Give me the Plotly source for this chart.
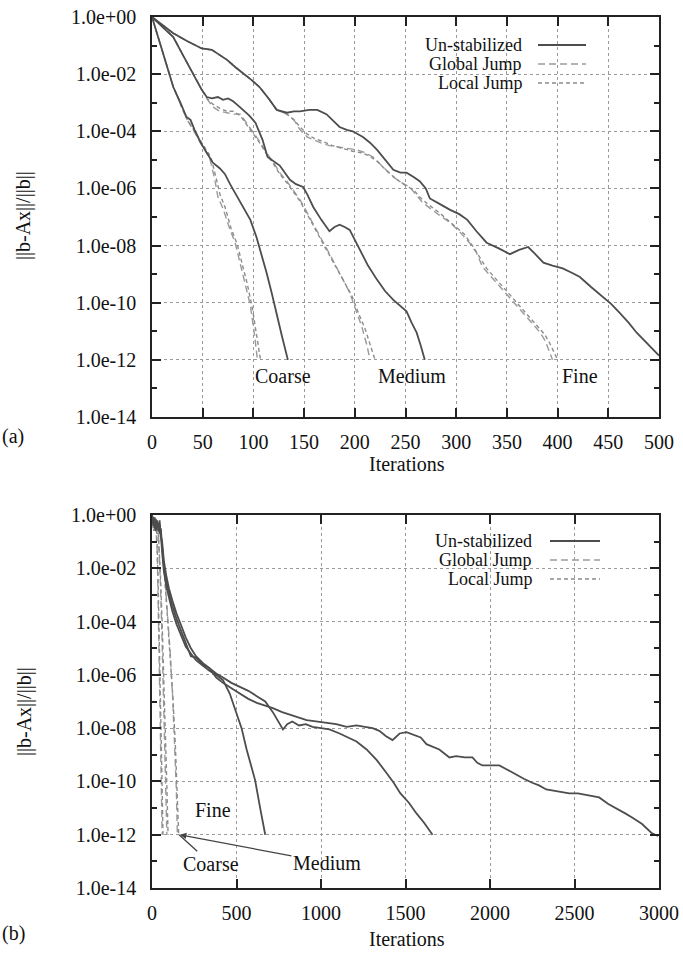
import plotly.graph_objects as go

W, H = 683, 954

# ---------------- Panel (a): iterations 0-500, values given as log10(||b-Ax||/||b||)
a_coarse_un_x = [0, 10, 21, 28, 34, 38, 42, 48, 54, 60, 67, 72, 77, 84, 90, 97, 103, 108, 113, 118, 123, 128, 134]
a_coarse_un_e = [0, -1.15, -2.45, -3.0, -3.5, -3.6, -3.95, -4.4, -4.75, -5.1, -5.3, -5.5, -5.85, -6.3, -6.65, -7.1, -7.7, -8.3, -8.95, -9.65, -10.35, -11.15, -12.0]
a_coarse_gj_x = [0, 10, 21, 34, 42, 50, 57, 62, 65, 70, 77, 82, 87, 92, 97, 101, 104]
a_coarse_gj_e = [0, -1.15, -2.45, -3.55, -4.05, -4.5, -4.95, -5.7, -6.3, -6.7, -7.45, -7.9, -8.6, -9.3, -10.1, -11.1, -12.0]
a_coarse_lj_x = [0, 10, 21, 34, 42, 50, 58, 63, 67, 72, 78, 84, 89, 94, 99, 103, 107]
a_coarse_lj_e = [0, -1.15, -2.45, -3.55, -4.0, -4.45, -4.9, -5.6, -6.2, -6.65, -7.4, -7.95, -8.65, -9.35, -10.2, -11.1, -12.0]

a_medium_un_x = [0, 10, 21, 30, 37, 44, 49, 54, 59, 65, 70, 75, 80, 85, 90, 96, 102, 109, 114, 120, 126, 131, 136, 142, 149, 153, 159, 167, 175, 180, 185, 190, 195, 200, 205, 213, 222, 230, 238, 245, 251, 256, 261, 265, 269]
a_medium_un_e = [0, -0.35, -0.7, -1.3, -1.75, -2.2, -2.55, -2.8, -2.85, -2.8, -2.9, -2.85, -2.95, -3.1, -3.25, -3.45, -3.7, -4.3, -4.9, -5.05, -5.2, -5.45, -5.7, -5.85, -5.95, -6.2, -6.65, -7.1, -7.5, -7.35, -7.27, -7.35, -7.45, -7.8, -8.15, -8.7, -9.2, -9.6, -9.9, -10.1, -10.3, -10.7, -11.05, -11.5, -12.0]
a_medium_gj_x = [0, 10, 21, 30, 37, 44, 49, 54, 60, 67, 74, 80, 87, 93, 100, 107, 113, 120, 126, 133, 139, 146, 153, 161, 169, 176, 182, 189, 195, 202, 207, 212, 215]
a_medium_gj_e = [0, -0.35, -0.7, -1.3, -1.75, -2.2, -2.55, -2.85, -3.15, -3.3, -3.35, -3.4, -3.4, -3.7, -4.05, -4.4, -4.75, -5.1, -5.45, -5.75, -6.05, -6.4, -6.85, -7.4, -7.9, -8.35, -8.75, -9.2, -9.65, -10.35, -10.85, -11.5, -12.0]
a_medium_lj_x = [0, 10, 21, 30, 37, 44, 49, 54, 60, 67, 74, 80, 87, 93, 100, 107, 113, 120, 126, 133, 139, 146, 153, 161, 169, 176, 183, 190, 197, 204, 210, 215, 220]
a_medium_lj_e = [0, -0.35, -0.7, -1.3, -1.75, -2.2, -2.55, -2.85, -3.05, -3.2, -3.3, -3.3, -3.45, -3.75, -4.1, -4.45, -4.8, -5.15, -5.5, -5.8, -6.1, -6.45, -6.9, -7.45, -7.95, -8.4, -8.85, -9.3, -9.75, -10.4, -10.9, -11.45, -12.0]

a_fine_un_x = [0, 10, 21, 35, 49, 59, 66, 74, 82, 90, 98, 106, 115, 123, 133, 140, 146, 155, 163, 172, 178, 185, 192, 198, 208, 215, 222, 230, 238, 245, 251, 258, 264, 270, 274, 284, 294, 303, 311, 320, 330, 342, 353, 362, 371, 378, 386, 395, 405, 414, 422, 433, 445, 453, 461, 470, 478, 488, 498, 500]
a_fine_un_e = [0, -0.28, -0.57, -0.85, -1.1, -1.15, -1.3, -1.5, -1.75, -1.97, -2.2, -2.45, -2.85, -3.25, -3.35, -3.3, -3.3, -3.25, -3.25, -3.4, -3.6, -3.85, -3.95, -4.0, -4.2, -4.4, -4.65, -5.0, -5.35, -5.45, -5.45, -5.6, -5.75, -6.0, -6.35, -6.55, -6.75, -6.9, -7.1, -7.5, -7.9, -8.1, -8.3, -8.15, -8.05, -8.3, -8.6, -8.7, -8.8, -8.95, -9.1, -9.45, -9.8, -10.05, -10.35, -10.7, -11.05, -11.4, -11.75, -11.85]
a_fine_gj_x = [0, 10, 21, 35, 49, 59, 66, 74, 82, 90, 98, 106, 115, 123, 133, 140, 146, 153, 160, 166, 175, 185, 195, 202, 210, 218, 228, 238, 246, 254, 260, 267, 280, 294, 303, 313, 320, 326, 336, 346, 356, 366, 375, 383, 388, 392, 395]
a_fine_gj_e = [0, -0.28, -0.57, -0.85, -1.1, -1.15, -1.3, -1.5, -1.75, -1.97, -2.2, -2.45, -2.85, -3.25, -3.4, -3.6, -3.95, -4.2, -4.3, -4.4, -4.5, -4.55, -4.6, -4.65, -4.75, -4.9, -5.25, -5.6, -5.8, -5.95, -6.2, -6.5, -6.85, -7.2, -7.5, -7.9, -8.25, -8.75, -9.15, -9.55, -9.95, -10.35, -10.7, -11.05, -11.35, -11.75, -12.0]
a_fine_lj_x = [0, 10, 21, 35, 49, 59, 66, 74, 82, 90, 98, 106, 115, 123, 133, 140, 146, 153, 160, 168, 178, 188, 198, 206, 214, 222, 232, 242, 250, 258, 264, 272, 285, 298, 308, 316, 323, 330, 340, 350, 360, 370, 379, 387, 392, 397, 400]
a_fine_lj_e = [0, -0.28, -0.57, -0.85, -1.1, -1.15, -1.3, -1.5, -1.75, -1.97, -2.2, -2.45, -2.85, -3.25, -3.4, -3.6, -3.85, -4.1, -4.25, -4.35, -4.5, -4.6, -4.7, -4.75, -4.85, -5.05, -5.4, -5.7, -5.9, -6.05, -6.3, -6.55, -6.9, -7.3, -7.6, -8.0, -8.4, -8.8, -9.2, -9.6, -10.0, -10.4, -10.75, -11.1, -11.4, -11.75, -12.0]

# ---------------- Panel (b): iterations 0-3000
b_coarse_un_x = [0, 8, 15, 22, 30, 38, 45, 52, 60, 70, 85, 100, 120, 145, 170, 200, 230, 260, 300, 340, 380, 420, 460, 500, 530, 560, 585, 610, 640, 670]
b_coarse_un_e = [0, -0.3, -0.1, -0.45, -0.2, -0.6, -0.35, -0.7, -1.4, -2.1, -2.7, -3.1, -3.6, -4.1, -4.5, -4.95, -5.2, -5.45, -5.65, -5.85, -6.0, -6.2, -6.7, -7.4, -8.0, -8.8, -9.4, -9.95, -11.0, -12.0]
b_medium_un_x = [0, 8, 15, 22, 30, 38, 45, 52, 60, 70, 85, 100, 120, 145, 170, 200, 230, 260, 300, 340, 380, 420, 470, 520, 570, 620, 670, 715, 745, 775, 800, 830, 870, 910, 950, 1000, 1050, 1110, 1160, 1210, 1270, 1330, 1390, 1430, 1470, 1520, 1565, 1610, 1660]
b_medium_un_e = [0, -0.2, -0.5, -0.15, -0.4, -0.3, -0.7, -0.5, -1.2, -1.9, -2.5, -2.9, -3.4, -3.9, -4.3, -4.8, -5.3, -5.35, -5.6, -5.75, -5.95, -6.1, -6.3, -6.45, -6.6, -6.8, -7.0, -7.4, -7.75, -8.05, -7.85, -7.75, -7.9, -7.85, -7.95, -8.0, -8.05, -8.2, -8.35, -8.5, -8.8, -9.2, -9.7, -10.05, -10.45, -10.8, -11.2, -11.55, -12.0]
b_fine_un_x = [0, 8, 15, 22, 30, 38, 45, 52, 60, 70, 85, 100, 120, 145, 170, 200, 230, 260, 300, 340,
               380, 420, 470, 520, 570, 620, 670, 715, 770, 815, 865, 915, 970, 1033, 1090, 1152, 1210, 1260, 1305, 1345,
               1385, 1423, 1465, 1506, 1553, 1590, 1624, 1660, 1700, 1730, 1760, 1800, 1850, 1896, 1925, 1955, 2000, 2055, 2100, 2155,
               2200, 2250, 2290, 2333, 2380, 2420, 2469, 2520, 2570, 2610, 2646, 2700, 2746, 2800, 2841, 2900, 2959, 2995]
b_fine_un_e = [0, -0.4, -0.1, -0.6, -0.3, -0.5, -0.2, -0.8, -1.0, -1.7, -2.3, -2.75, -3.2, -3.7, -4.1, -4.6, -5.0, -5.3, -5.55, -5.75,
               -6.1, -6.3, -6.5, -6.7, -6.9, -7.05, -7.15, -7.25, -7.4, -7.5, -7.6, -7.7, -7.75, -7.8, -7.85, -7.95, -7.9, -7.95, -8.0, -8.1,
               -8.3, -8.45, -8.2, -8.15, -8.25, -8.35, -8.6, -8.7, -8.8, -8.95, -9.1, -9.05, -9.1, -9.1, -9.3, -9.4, -9.4, -9.4, -9.55, -9.75,
               -9.9, -10.05, -10.15, -10.3, -10.35, -10.4, -10.45, -10.45, -10.5, -10.55, -10.6, -10.85, -11.0, -11.2, -11.35, -11.6, -11.95, -12.05]

b_coarse_gj_x = [0, 5, 10, 15, 20, 25, 30, 34, 38, 42, 46, 50, 55, 60]
b_coarse_gj_e = [0, -0.5, -0.15, -0.6, -0.3, -0.8, -1.2, -2.4, -3.8, -5.3, -6.8, -8.5, -10.3, -12.0]
b_coarse_lj_x = [0, 5, 10, 15, 20, 25, 30, 35, 40, 45, 50, 55, 60, 65]
b_coarse_lj_e = [0, -0.3, -0.6, -0.2, -0.5, -0.4, -1.0, -2.2, -3.6, -5.1, -6.7, -8.4, -10.2, -12.0]
b_medium_gj_x = [0, 6, 12, 18, 24, 30, 36, 42, 50, 58, 66, 74, 82, 88]
b_medium_gj_e = [0, -0.3, -0.1, -0.5, -0.25, -0.6, -0.4, -1.2, -2.6, -4.3, -6.2, -8.2, -10.2, -12.0]
b_medium_lj_x = [0, 6, 12, 18, 24, 30, 36, 42, 50, 60, 70, 80, 88, 95]
b_medium_lj_e = [0, -0.4, -0.2, -0.6, -0.3, -0.7, -0.5, -1.1, -2.3, -4.0, -6.0, -8.2, -10.2, -12.0]
b_fine_gj_x = [0, 8, 16, 24, 32, 40, 48, 56, 66, 78, 92, 108, 122, 134, 144, 150]
b_fine_gj_e = [0, -0.3, -0.15, -0.5, -0.3, -0.6, -0.4, -0.8, -1.5, -2.5, -3.7, -5.2, -6.8, -8.5, -10.3, -12.0]
b_fine_lj_x = [0, 8, 16, 24, 32, 40, 48, 56, 66, 78, 92, 108, 124, 138, 150, 158]
b_fine_lj_e = [0, -0.35, -0.2, -0.55, -0.25, -0.65, -0.45, -0.9, -1.6, -2.6, -3.8, -5.3, -6.9, -8.6, -10.3, -12.0]

# ---------------- ticks / labels
a_xticks = [0, 50, 100, 150, 200, 250, 300, 350, 400, 450, 500]
b_xticks = [0, 500, 1000, 1500, 2000, 2500, 3000]
y_major = [1e0, 1e-2, 1e-4, 1e-6, 1e-8, 1e-10, 1e-12, 1e-14]
y_major_text = ["1.0e+00", "1.0e-02", "1.0e-04", "1.0e-06", "1.0e-08", "1.0e-10", "1.0e-12", "1.0e-14"]
y_minor = [1e-1, 1e-3, 1e-5, 1e-7, 1e-9, 1e-11, 1e-13]
legend_names = ["Un-stabilized", "Global Jump", "Local Jump"]
y_title = "||b-Ax||/||b||"
x_title = "Iterations"

SERIF = "Liberation Serif"
SOLID = dict(color="#4d4d4d", width=1.8)
GJ = dict(color="#9a9a9a", width=1.4, dash="7px,4px")
LJ = dict(color="#8c8c8c", width=1.4, dash="4px,3px")

fig = go.Figure()


def add(x, e, xa, ya, line):
    assert len(x) == len(e)
    fig.add_trace(go.Scatter(x=x, y=[10 ** v for v in e], xaxis=xa, yaxis=ya, mode="lines",
                             line=line, showlegend=False, hoverinfo="skip"))


for (x, e, ln) in [(a_coarse_gj_x, a_coarse_gj_e, GJ), (a_coarse_lj_x, a_coarse_lj_e, LJ),
                   (a_medium_gj_x, a_medium_gj_e, GJ), (a_medium_lj_x, a_medium_lj_e, LJ),
                   (a_fine_gj_x, a_fine_gj_e, GJ), (a_fine_lj_x, a_fine_lj_e, LJ),
                   (a_coarse_un_x, a_coarse_un_e, SOLID), (a_medium_un_x, a_medium_un_e, SOLID),
                   (a_fine_un_x, a_fine_un_e, SOLID)]:
    add(x, e, "x", "y", ln)

for (x, e, ln) in [(b_coarse_gj_x, b_coarse_gj_e, GJ), (b_coarse_lj_x, b_coarse_lj_e, LJ),
                   (b_medium_gj_x, b_medium_gj_e, GJ), (b_medium_lj_x, b_medium_lj_e, LJ),
                   (b_fine_gj_x, b_fine_gj_e, GJ), (b_fine_lj_x, b_fine_lj_e, LJ),
                   (b_coarse_un_x, b_coarse_un_e, SOLID), (b_medium_un_x, b_medium_un_e, SOLID),
                   (b_fine_un_x, b_fine_un_e, SOLID)]:
    add(x, e, "x2", "y2", ln)


def px(xp):
    return xp / W


def py(yp):
    return 1 - yp / H


common = dict(showline=True, linecolor="#222", linewidth=1.5, mirror="allticks",
              ticks="inside", ticklen=9, tickwidth=1.5, tickcolor="#222",
              showgrid=True, gridcolor="#9a9a9a", griddash="dot", gridwidth=1,
              zeroline=False, automargin=False,
              tickfont=dict(family=SERIF, size=20, color="#111"))

yminor = dict(tickvals=y_minor, ticks="inside", ticklen=5, tickwidth=1.5, tickcolor="#222", showgrid=False)

fig.update_layout(
    width=W, height=H, autosize=False,
    margin=dict(l=0, r=0, t=0, b=0, autoexpand=False),
    paper_bgcolor="white", plot_bgcolor="white",
    xaxis=dict(domain=[px(152), px(659)], anchor="y", range=[0, 500], tickvals=a_xticks,
               ticklabelstandoff=6, **common),
    yaxis=dict(domain=[py(417), py(17)], anchor="x", type="log", range=[-14, 0],
               tickvals=y_major, ticktext=y_major_text, minor=yminor, ticklabelstandoff=10, **common),
    xaxis2=dict(domain=[px(152), px(659)], anchor="y2", range=[0, 3000], tickvals=b_xticks,
                ticklabelstandoff=6, **common),
    yaxis2=dict(domain=[py(888), py(515)], anchor="x2", type="log", range=[-14, 0],
                tickvals=y_major, ticktext=y_major_text, minor=yminor, ticklabelstandoff=10, **common),
)

TXT = dict(family=SERIF, size=20, color="#111")
LEG = dict(family=SERIF, size=18, color="#111")
ann = []
# axis titles and panel tags
for (yc, xt_y, tag_y, tag) in [(216, 464, 436, "(a)"), (712, 939, 933, "(b)")]:
    ann.append(dict(x=px(24), y=py(yc), xref="paper", yref="paper", text=y_title, textangle=-90,
                    showarrow=False, font=TXT, xanchor="center", yanchor="middle"))
    ann.append(dict(x=px(407), y=py(xt_y), xref="paper", yref="paper", text=x_title,
                    showarrow=False, font=TXT, xanchor="center", yanchor="middle"))
    ann.append(dict(x=px(13), y=py(tag_y), xref="paper", yref="paper", text=tag,
                    showarrow=False, font=TXT, xanchor="center", yanchor="middle"))

# legends (text then sample line, gnuplot style)
shapes = []
styles = [SOLID, GJ, LJ]
for (tx, s0, s1, ys) in [(523, 538, 586, [45, 64, 83]), (533, 550, 600, [541, 560, 579])]:
    for name, yy, st in zip(legend_names, ys, styles):
        ann.append(dict(x=px(tx), y=py(yy), xref="paper", yref="paper", text=name, showarrow=False,
                        font=LEG, xanchor="right", yanchor="middle", borderpad=0))
        shapes.append(dict(type="line", xref="paper", yref="paper", x0=px(s0), x1=px(s1),
                           y0=py(yy), y1=py(yy), line=st))

# curve labels, panel (a)
for name, xv in [("Coarse", 129), ("Medium", 256), ("Fine", 422)]:
    ann.append(dict(x=xv, y=-12.55, xref="x", yref="y", text=name, showarrow=False, font=TXT,
                    xanchor="center", yanchor="middle"))

# curve labels, panel (b)
ann.append(dict(x=360, y=-11.07, xref="x2", yref="y2", text="Fine", showarrow=False, font=TXT,
                xanchor="center", yanchor="middle"))
ann.append(dict(x=160, y=-12, xref="x2", yref="y2", text="Coarse", showarrow=True, font=TXT,
                ax=32, ay=29, arrowhead=0, arrowwidth=1.3, arrowcolor="#444"))
ann.append(dict(x=165, y=-12, xref="x2", yref="y2", text="Medium", showarrow=True, font=TXT,
                ax=147, ay=28, arrowhead=2, arrowsize=1, arrowwidth=1.3, arrowcolor="#444"))

fig.update_layout(annotations=ann, shapes=shapes)
fig.write_html("out.html")
